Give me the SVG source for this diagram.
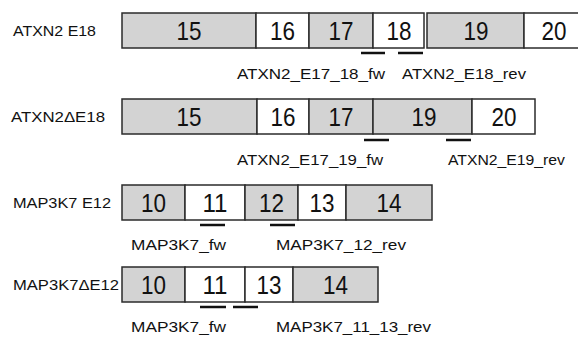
<svg xmlns="http://www.w3.org/2000/svg" width="578" height="338" viewBox="0 0 578 338">
<style>
.g{fill:#d3d3d3;stroke:#2b2b2b;stroke-width:1.5}
.w{fill:#ffffff;stroke:#2b2b2b;stroke-width:1.5}
.n{font-family:"Liberation Sans",Arial,sans-serif;font-size:25px;fill:#111;text-anchor:middle}
.l{font-family:"Liberation Sans",Arial,sans-serif;font-size:15.5px;fill:#111}
.bar{stroke:#111;stroke-width:2.5}
</style>
<rect width="578" height="338" fill="#fff"/>
<g id="row1">
<text class="l" x="13" y="36" textLength="83" lengthAdjust="spacingAndGlyphs">ATXN2 E18</text>
<g id="r1e15"><rect class="g" x="122" y="13" width="134" height="35"/><text class="n" x="189" y="39.5" textLength="25" lengthAdjust="spacingAndGlyphs">15</text></g>
<g id="r1e16"><rect class="w" x="256" y="13" width="53" height="35"/><text class="n" x="282.5" y="39.5" textLength="25" lengthAdjust="spacingAndGlyphs">16</text></g>
<g id="r1e17"><rect class="g" x="309" y="13" width="64" height="35"/><text class="n" x="341" y="39.5" textLength="25" lengthAdjust="spacingAndGlyphs">17</text></g>
<g id="r1e18"><rect class="w" x="373" y="13" width="51" height="35"/><text class="n" x="399" y="39.5" textLength="25" lengthAdjust="spacingAndGlyphs">18</text></g>
<g id="r1e19"><rect class="g" x="427" y="13" width="97" height="35"/><text class="n" x="476" y="39.5" textLength="25" lengthAdjust="spacingAndGlyphs">19</text></g>
<g id="r1e20"><rect class="w" x="524" y="13" width="60" height="35"/><text class="n" x="554" y="39.5" textLength="25" lengthAdjust="spacingAndGlyphs">20</text></g>
<text class="l" x="237" y="79" textLength="148" lengthAdjust="spacingAndGlyphs">ATXN2_E17_18_fw</text>
<text class="l" x="402" y="79" textLength="124" lengthAdjust="spacingAndGlyphs">ATXN2_E18_rev</text>
</g>
<g id="row2">
<text class="l" x="11" y="122" textLength="94" lengthAdjust="spacingAndGlyphs">ATXN2ΔE18</text>
<g id="r2e15"><rect class="g" x="122" y="99" width="135" height="35"/><text class="n" x="189" y="125.5" textLength="25" lengthAdjust="spacingAndGlyphs">15</text></g>
<g id="r2e16"><rect class="w" x="257" y="99" width="52" height="35"/><text class="n" x="283" y="125.5" textLength="25" lengthAdjust="spacingAndGlyphs">16</text></g>
<g id="r2e17"><rect class="g" x="309" y="99" width="64" height="35"/><text class="n" x="341" y="125.5" textLength="25" lengthAdjust="spacingAndGlyphs">17</text></g>
<g id="r2e19"><rect class="g" x="373" y="99" width="99" height="35"/><text class="n" x="424" y="125.5" textLength="25" lengthAdjust="spacingAndGlyphs">19</text></g>
<g id="r2e20"><rect class="w" x="472" y="99" width="63" height="35"/><text class="n" x="504" y="125.5" textLength="25" lengthAdjust="spacingAndGlyphs">20</text></g>
<text class="l" x="237" y="165" textLength="146" lengthAdjust="spacingAndGlyphs">ATXN2_E17_19_fw</text>
<text class="l" x="448" y="165" textLength="117" lengthAdjust="spacingAndGlyphs">ATXN2_E19_rev</text>
</g>
<g id="row3">
<text class="l" x="13" y="208" textLength="98" lengthAdjust="spacingAndGlyphs">MAP3K7 E12</text>
<g id="r3e10"><rect class="g" x="122" y="185" width="63" height="35"/><text class="n" x="153.5" y="211.5" textLength="25" lengthAdjust="spacingAndGlyphs">10</text></g>
<g id="r3e11"><rect class="w" x="185" y="185" width="60" height="35"/><text class="n" x="215" y="211.5" textLength="25" lengthAdjust="spacingAndGlyphs">11</text></g>
<g id="r3e12"><rect class="g" x="245" y="185" width="53" height="35"/><text class="n" x="271.5" y="211.5" textLength="25" lengthAdjust="spacingAndGlyphs">12</text></g>
<g id="r3e13"><rect class="w" x="298" y="185" width="48" height="35"/><text class="n" x="322" y="211.5" textLength="25" lengthAdjust="spacingAndGlyphs">13</text></g>
<g id="r3e14"><rect class="g" x="346" y="185" width="86" height="35"/><text class="n" x="389" y="211.5" textLength="25" lengthAdjust="spacingAndGlyphs">14</text></g>
<text class="l" x="131" y="250" textLength="95" lengthAdjust="spacingAndGlyphs">MAP3K7_fw</text>
<text class="l" x="276" y="250" textLength="130" lengthAdjust="spacingAndGlyphs">MAP3K7_12_rev</text>
</g>
<g id="row4">
<text class="l" x="13" y="290" textLength="106" lengthAdjust="spacingAndGlyphs">MAP3K7ΔE12</text>
<g id="r4e10"><rect class="g" x="122" y="267" width="63" height="35"/><text class="n" x="153.5" y="293.5" textLength="25" lengthAdjust="spacingAndGlyphs">10</text></g>
<g id="r4e11"><rect class="w" x="185" y="267" width="60" height="35"/><text class="n" x="215" y="293.5" textLength="25" lengthAdjust="spacingAndGlyphs">11</text></g>
<g id="r4e13"><rect class="w" x="245" y="267" width="48" height="35"/><text class="n" x="269" y="293.5" textLength="25" lengthAdjust="spacingAndGlyphs">13</text></g>
<g id="r4e14"><rect class="g" x="293" y="267" width="85" height="35"/><text class="n" x="335.5" y="293.5" textLength="25" lengthAdjust="spacingAndGlyphs">14</text></g>
<text class="l" x="131" y="332" textLength="95" lengthAdjust="spacingAndGlyphs">MAP3K7_fw</text>
<text class="l" x="276" y="332" textLength="155" lengthAdjust="spacingAndGlyphs">MAP3K7_11_13_rev</text>
</g>
<g id="connectors">
<line class="bar" x1="361" y1="53" x2="385" y2="53"/>
<line class="bar" x1="398" y1="53" x2="423" y2="53"/>
<line class="bar" x1="364" y1="140" x2="389" y2="140"/>
<line class="bar" x1="446" y1="140" x2="471" y2="140"/>
<line class="bar" x1="200" y1="225" x2="225" y2="225"/>
<line class="bar" x1="270" y1="225" x2="295" y2="225"/>
<line class="bar" x1="200" y1="307" x2="226" y2="307"/>
<line class="bar" x1="233" y1="307" x2="258" y2="307"/>
</g>
</svg>
